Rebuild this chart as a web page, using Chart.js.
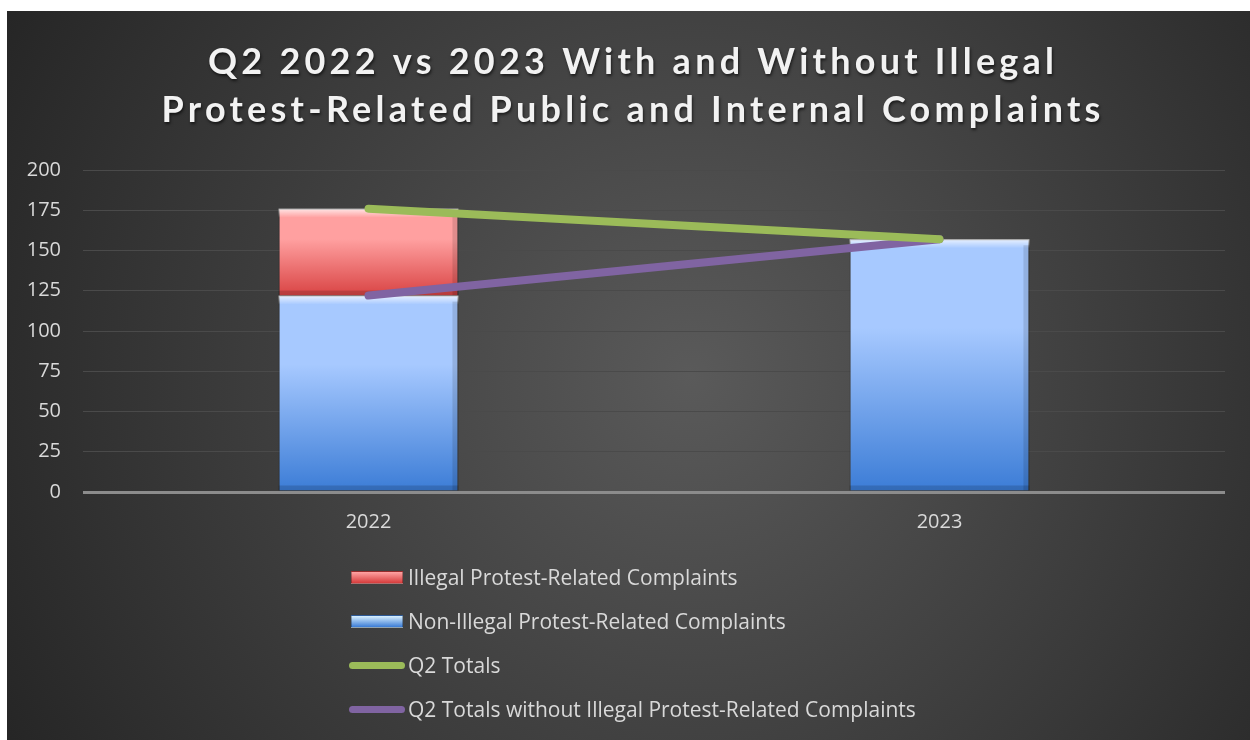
<!DOCTYPE html>
<html>
<head>
<meta charset="utf-8">
<script src="https://cdn.jsdelivr.net/npm/chart.js@4"></script>
<style>
	html, body { margin: 0; padding: 0; background: #fff; }
	#wrap { position: absolute; left: 7px; top: 11px; width: 1243px; height: 729px; }
	#legend { position: absolute; left: 342px; top: 544px; font-family: 'Open Sans', Lato, sans-serif; font-size: 21px; color: #d9d9d9; }
	.item { height: 44px; display: flex; align-items: center; }
	.item .sw { width: 56px; margin-right: 3px; display: flex; align-items: center; justify-content: center; }
	.bar { width: 52px; height: 13px; box-sizing: border-box; border: 1px solid rgba(0,0,0,0.3); }
	.line { width: 56px; height: 7px; border-radius: 4px; }
</style>
</head>
<body>
<div id="wrap">
	<canvas id="chart"></canvas>
	<div id="legend"></div>
</div>
<script>
const titleLines = ['Q2 2022 vs 2023 With and Without Illegal', 'Protest-Related Public and Internal Complaints'];
const years = ['2022', '2023'];
const nonIllegal = [122, 157]; // blue bars
const illegal = [54, null]; // red bars, stacked on blue
const totals = [176, 157]; // green line
const totalsWithout = [122, 157]; // purple line
const yTicks = [0, 25, 50, 75, 100, 125, 150, 175, 200];

// vertical gradient for a bar, from its base up to its top
function barFill(light, dark) {
	return function (c) {
		const chart = c.chart;
		if (!chart.chartArea || c.type !== 'data') return dark;
		const y = chart.scales.y;
		let start = 0;
		for (let i = 0; i < c.datasetIndex; i++) {
			const d = chart.data.datasets[i];
			if (d.type === 'bar') start += d.data[c.dataIndex] || 0;
		}
		const v = c.raw || 0;
		const top = y.getPixelForValue(start + v);
		const bottom = y.getPixelForValue(start);
		if (!isFinite(top) || !isFinite(bottom) || top === bottom) return dark;
		const g = chart.ctx.createLinearGradient(0, top, 0, bottom);
		g.addColorStop(0, light);
		g.addColorStop(0.35, light);
		g.addColorStop(1, dark);
		return g;
	};
}

const bgPlugin = {
	id: 'bg',
	beforeDraw(chart) {
		const { ctx, width, height } = chart;
		const g = ctx.createRadialGradient(width * 0.55, height * 0.5, 0, width * 0.55, height * 0.5, width * 0.62);
		g.addColorStop(0, '#5a5a5a');
		g.addColorStop(1, '#262626');
		ctx.save();
		ctx.fillStyle = g;
		ctx.fillRect(0, 0, width, height);
		ctx.restore();
	},
};

const titlePlugin = {
	id: 'spacedTitle',
	afterDraw(chart) {
		const ctx = chart.ctx;
		ctx.save();
		ctx.font = 'bold 36px Lato, "Open Sans", sans-serif';
		ctx.fillStyle = '#f2f2f2';
		ctx.textAlign = 'center';
		ctx.textBaseline = 'middle';
		ctx.shadowColor = 'rgba(0,0,0,0.6)';
		ctx.shadowOffsetX = 1;
		ctx.shadowOffsetY = 2;
		ctx.shadowBlur = 3;
		// letter spacing picked so the second line is about 943px wide
		ctx.letterSpacing = '0px';
		const w = ctx.measureText(titleLines[1]).width;
		const sp = Math.max(0, (943 - w) / titleLines[1].length);
		ctx.letterSpacing = sp + 'px';
		titleLines.forEach((t, i) => ctx.fillText(t, 624 + sp / 2, 51 + i * 48));
		ctx.restore();
	},
};

// light bevel on each bar
const bevelPlugin = {
	id: 'bevel',
	afterDatasetDraw(chart, args) {
		const meta = args.meta;
		if (meta.type !== 'bar') return;
		const ctx = chart.ctx;
		meta.data.forEach((el) => {
			const p = el.getProps(['x', 'y', 'base', 'width'], true);
			const h = p.base - p.y;
			if (!h || h < 2) return;
			const l = p.x - p.width / 2;
			ctx.save();
			let g = ctx.createLinearGradient(0, p.y, 0, p.y + 9);
			g.addColorStop(0, 'rgba(255,255,255,0.75)');
			g.addColorStop(1, 'rgba(255,255,255,0)');
			ctx.fillStyle = g;
			ctx.fillRect(l, p.y, p.width, 9);
			ctx.fillStyle = 'rgba(0,0,0,0.12)';
			ctx.fillRect(l + p.width - 6, p.y + 6, 6, h - 6);
			ctx.fillStyle = 'rgba(0,0,0,0.15)';
			ctx.fillRect(l, p.base - 5, p.width, 5);
			ctx.restore();
		});
	},
};

const ctx = document.getElementById('chart').getContext('2d');
const chart = new Chart(ctx, {
	data: {
		labels: years,
		datasets: [
			{
				type: 'line',
				label: 'Q2 Totals',
				data: totals,
				stack: 'g',
				borderColor: '#9bbb59',
				borderWidth: 8,
				borderCapStyle: 'round',
				pointRadius: 0,
				order: 0,
			},
			{
				type: 'line',
				label: 'Q2 Totals without Illegal Protest-Related Complaints',
				data: totalsWithout,
				stack: 'p',
				borderColor: '#8064a2',
				borderWidth: 8,
				borderCapStyle: 'round',
				pointRadius: 0,
				order: 0,
			},
			{
				type: 'bar',
				label: 'Non-Illegal Protest-Related Complaints',
				data: nonIllegal,
				stack: 'bars',
				backgroundColor: barFill('#a7c9ff', '#3b7cd6'),
				borderColor: 'rgba(0,0,0,0.3)',
				borderWidth: 1,
				order: 1,
			},
			{
				type: 'bar',
				label: 'Illegal Protest-Related Complaints',
				data: illegal,
				stack: 'bars',
				backgroundColor: barFill('#ffa0a0', '#d94444'),
				borderColor: 'rgba(0,0,0,0.3)',
				borderWidth: 1,
				order: 1,
			},
		],
	},
	options: {
		responsive: true,
		maintainAspectRatio: false,
		animation: false,
		datasets: { bar: { barPercentage: 0.315, categoryPercentage: 1 } },
		layout: { padding: { left: 0, right: 25, top: 159, bottom: 198 } },
		plugins: { legend: { display: false }, title: { display: false }, tooltip: { enabled: false } },
		scales: {
			x: {
				stacked: true,
				grid: { display: false },
				border: { display: false },
				ticks: { color: '#d9d9d9', font: { family: 'Open Sans', size: 20 }, padding: 10 },
				afterFit: (s) => { s.height = 50; },
			},
			y: {
				stacked: true,
				min: 0,
				max: 200,
				afterBuildTicks: (s) => { s.ticks = yTicks.map((v) => ({ value: v })); },
				grid: {
					drawTicks: false,
					color: (c) => (c.tick && c.tick.value === 0 ? '#8c8c8c' : '#4a4a4a'),
					lineWidth: (c) => (c.tick && c.tick.value === 0 ? 3 : 1),
				},
				border: { display: false },
				ticks: { color: '#d9d9d9', font: { family: 'Open Sans', size: 20 }, padding: 22 },
				afterFit: (s) => { s.width = 76; },
			},
		},
	},
	plugins: [bgPlugin, bevelPlugin, titlePlugin],
});

// legend as a vertical list like the original
const legendItems = [
	{ text: 'Illegal Protest-Related Complaints', kind: 'bar', light: '#ffa3a3', dark: '#d63c3c' },
	{ text: 'Non-Illegal Protest-Related Complaints', kind: 'bar', light: '#d8f0ff', dark: '#3b7cd6' },
	{ text: 'Q2 Totals', kind: 'line', color: '#9bbb59' },
	{ text: 'Q2 Totals without Illegal Protest-Related Complaints', kind: 'line', color: '#8064a2' },
];
const legendEl = document.getElementById('legend');
legendItems.forEach((it) => {
	const row = document.createElement('div');
	row.className = 'item';
	const sw = document.createElement('div');
	sw.className = 'sw';
	const mark = document.createElement('div');
	if (it.kind === 'bar') {
		mark.className = 'bar';
		mark.style.background = 'linear-gradient(' + it.light + ', ' + it.dark + ')';
	} else {
		mark.className = 'line';
		mark.style.background = it.color;
	}
	sw.appendChild(mark);
	const label = document.createElement('span');
	label.textContent = it.text;
	row.appendChild(sw);
	row.appendChild(label);
	legendEl.appendChild(row);
});
</script>
</body>
</html>
